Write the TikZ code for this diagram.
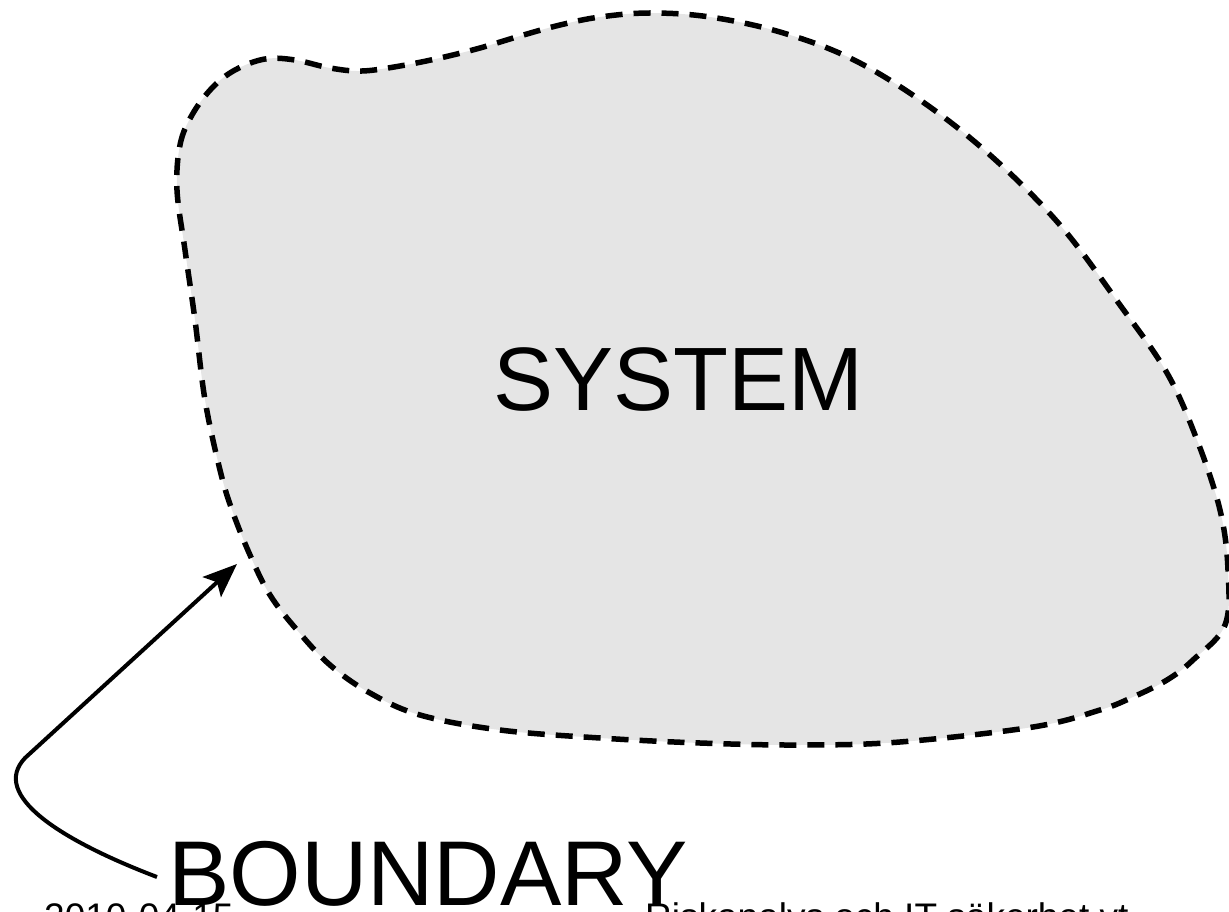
\documentclass[tikz,border=0pt]{standalone}
\usepackage{fontspec}
\setmainfont{Liberation Sans}
\usetikzlibrary{arrows.meta}

\begin{document}
\begin{tikzpicture}[x=1pt, y=-1pt,
    biglabel/.style={anchor=base west, inner sep=0pt, font=\fontsize{90}{98}\selectfont},
    footer/.style={anchor=base west, inner sep=0pt, font=\fontsize{37}{40}\selectfont},
    border/.style={fill=black!10, line width=5.5pt, dash pattern=on 17pt off 11pt}]
    \useasboundingbox (0,0) rectangle (1229,912);
    \clip (0,0) rectangle (1229,912);

    \draw[border] plot[smooth cycle, tension=0.6] coordinates {
      (177,190) (180,145) (192,115) (212,88) (235,70) (265,59) (295,60)
      (330,68) (362,71) (400,66) (440,58) (480,48) (520,36) (560,25)
      (600,17) (650,13) (710,17) (780,32) (850,58) (920,100) (990,155)
      (1060,225) (1120,305) (1167,373) (1197,440) (1220,510) (1228,570)
      (1225,625) (1193,660) (1167,680) (1133,697) (1100,710) (1033,727)
      (900,742) (800,745) (700,743) (600,738) (500,730) (420,715)
      (370,693) (330,665) (297,630) (270,595) (250,555) (232,510)
      (220,470) (205,400) (195,320) (185,250)};

    \node (system) at (493,410) [biglabel] {SYSTEM};
    \node (boundary) at (168,905) [biglabel, font=\fontsize{92}{100}\selectfont] {BOUNDARY};
    \coordinate (tail) at (157,877);
    \coordinate (edge) at (237,564);

    \draw[line width=4pt, -{Stealth[length=34pt, width=27pt, inset=7pt]}]
      (tail) .. controls (60,840) and (-10,795) .. (25,758) -- (edge);

    \node (date) at (44,929) [footer] {2010-04-15};
    \node (course) at (645,929) [footer] {Riskanalys och IT-säkerhet vt};
  \end{tikzpicture}
\end{document}
